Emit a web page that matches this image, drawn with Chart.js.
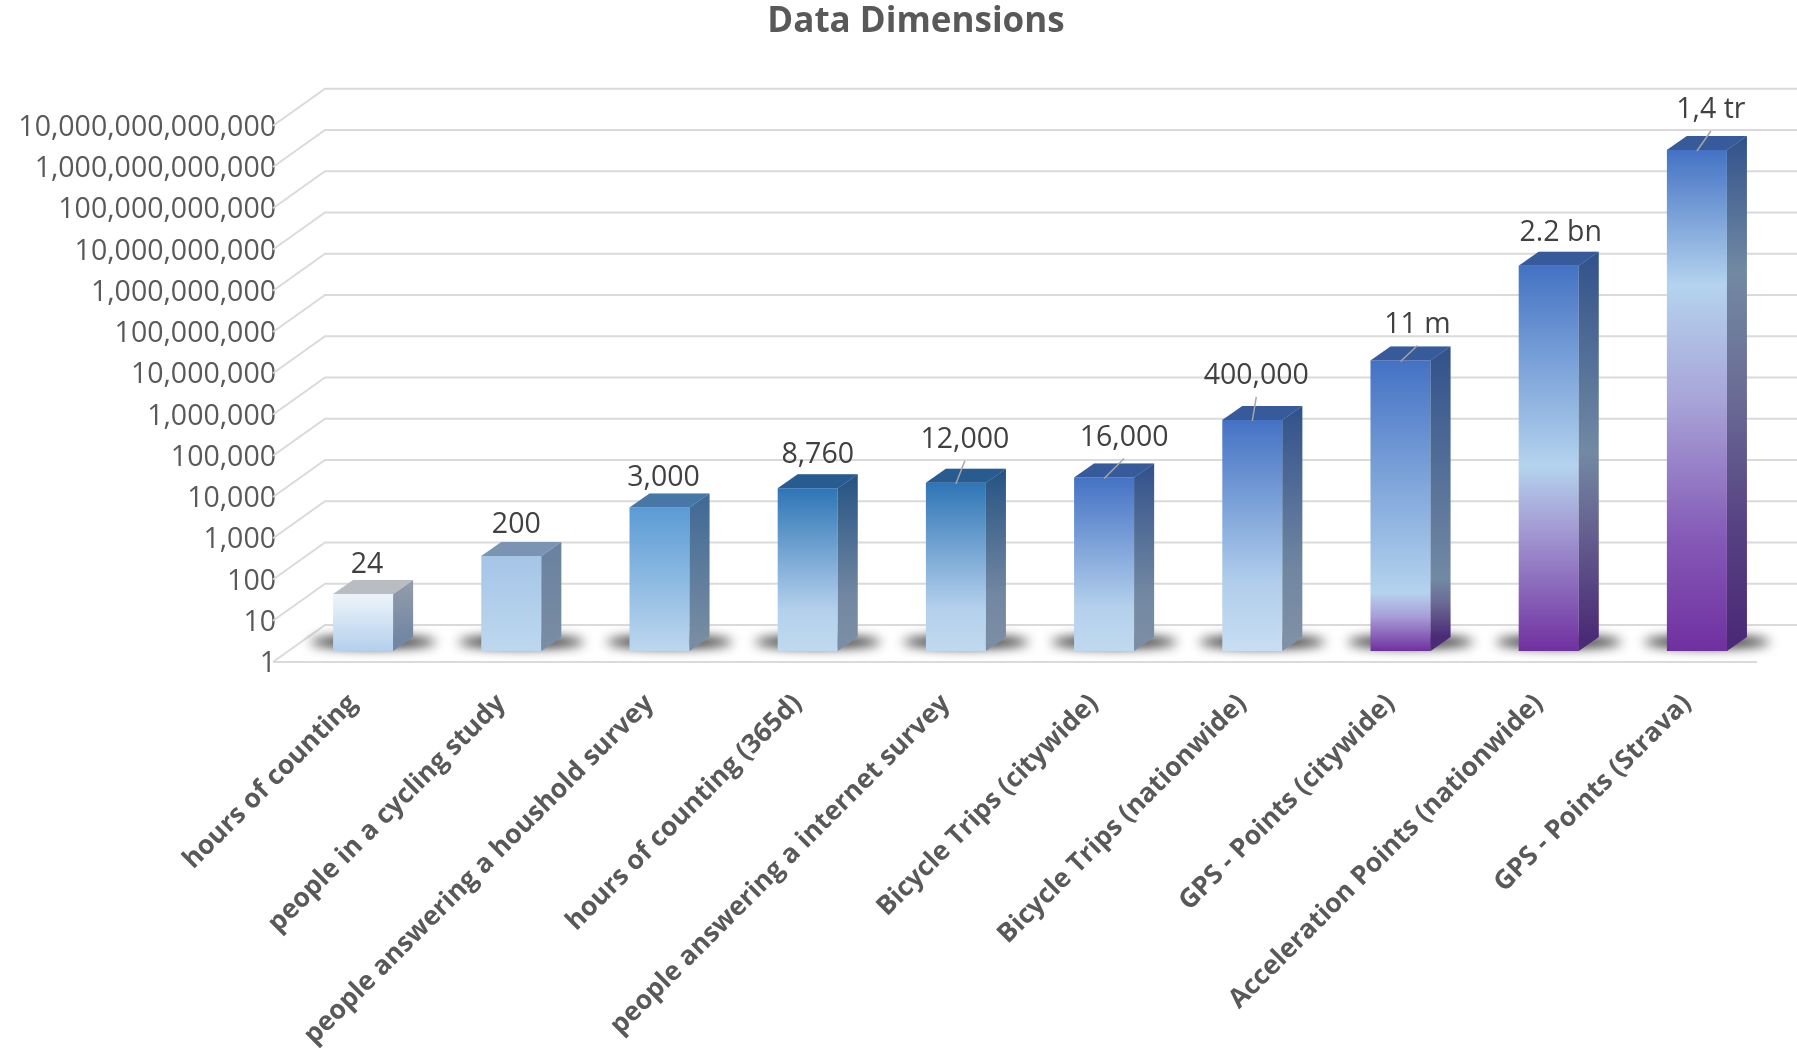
<!DOCTYPE html>
<html>
<head>
<meta charset="utf-8">
<script src="https://cdn.jsdelivr.net/npm/chart.js@4.4.1/dist/chart.umd.min.js"></script>
<style>
  html, body { margin: 0; padding: 0; background: #fff; }
  #wrap { width: 1797px; height: 1051px; }
</style>
</head>
<body>
<div id="wrap"><canvas id="chart" width="1797" height="1051"></canvas></div>
<script>
const chartTitle = 'Data Dimensions';
const categories = [
  'hours of counting', 'people in a cycling study', 'people answering a houshold survey',
  'hours of counting (365d)', 'people answering a internet survey', 'Bicycle Trips (citywide)',
  'Bicycle Trips (nationwide)', 'GPS - Points (citywide)', 'Acceleration Points (nationwide)', 'GPS - Points (Strava)'
];
const values = [24, 200, 3000, 8760, 12000, 16000, 400000, 11000000, 2200000000, 1400000000000];
const valueLabels = ['24', '200', '3,000', '8,760', '12,000', '16,000', '400,000', '11 m', '2.2 bn', '1,4 tr'];
const yTickValues = [1, 1e1, 1e2, 1e3, 1e4, 1e5, 1e6, 1e7, 1e8, 1e9, 1e10, 1e11, 1e12, 1e13];

// look of the 3d columns (front face gradient top -> bottom)
const faceStops = [
  [[0, '#eef4fb'], [1, '#b4d0ec']],
  [[0, '#a5c5e7'], [1, '#bdd7ee']],
  [[0, '#5b9bd5'], [1, '#bdd7ee']],
  [[0, '#2e75b6'], [0.75, '#b4d0ec'], [1, '#c0d9ef']],
  [[0, '#2e75b6'], [0.75, '#b4d0ec'], [1, '#c0d9ef']],
  [[0, '#4472c4'], [0.75, '#b4d0ec'], [1, '#c0d9ef']],
  [[0, '#4472c4'], [0.7, '#b0cdeb'], [1, '#c8def2']],
  [[0, '#4472c4'], [0.8, '#b4d3ee'], [0.88, '#a89fd8'], [1, '#7030a0']],
  [[0, '#4472c4'], [0.52, '#b4d3ee'], [0.68, '#a49cd4'], [1, '#7030a0']],
  [[0, '#4472c4'], [0.27, '#b4d3ee'], [0.5, '#a8a4d8'], [0.78, '#8458b6'], [1, '#7030a0']],
];
const topFace = ['#b9bcc1', null, null, null, null, null, null, null, null, null];
// label placement relative to the column top (px)
const labelShiftX = [4, 5, 4, 10, 9, 20, 4, 17, 12, 14];
const labelRise = [29, 31, 30, 33, 43, 40, 44, 36, 33, 40];
const DX = 20, DY = 14;

function faceGradient(ctx, i, top, bottom) {
  const g = ctx.createLinearGradient(0, top, 0, bottom);
  faceStops[i].forEach(s => g.addColorStop(s[0], s[1]));
  return g;
}

const threeD = {
  id: 'threeD',
  beforeDatasetsDraw(chart) {
    const { ctx, chartArea, scales: { y } } = chart;
    ctx.save();
    ctx.strokeStyle = '#dadada'; ctx.lineWidth = 2;
    const x0 = chartArea.left - 16, x1 = chartArea.left + 36;
    yTickValues.forEach(v => {
      const fy = y.getPixelForValue(v) + 11, by = fy - 37;
      ctx.beginPath(); ctx.moveTo(x0, fy); ctx.lineTo(x1, by); ctx.lineTo(chart.width, by); ctx.stroke();
    });
    const floorY = y.getPixelForValue(1) + 11;
    ctx.beginPath(); ctx.moveTo(x0, floorY); ctx.lineTo(chartArea.right - 14, floorY); ctx.stroke();
    // floor shadows
    const meta = chart.getDatasetMeta(0);
    ctx.filter = 'blur(6px)';
    ctx.fillStyle = 'rgba(0,0,0,0.85)';
    meta.data.forEach(bar => {
      ctx.beginPath(); ctx.ellipse(bar.x + 10, bar.base - 9, bar.width * 1.05, 6, 0, 0, Math.PI * 2); ctx.fill();
    });
    ctx.restore();
  },
  afterDatasetsDraw(chart) {
    const { ctx } = chart;
    const meta = chart.getDatasetMeta(0);
    ctx.save();
    meta.data.forEach((bar, i) => {
      const l = bar.x - bar.width / 2, r = bar.x + bar.width / 2, t = bar.y, b = bar.base;
      ctx.beginPath(); ctx.moveTo(r, t); ctx.lineTo(r + DX, t - DY); ctx.lineTo(r + DX, b - DY); ctx.lineTo(r, b); ctx.closePath();
      ctx.fillStyle = faceGradient(ctx, i, t - DY, b - DY); ctx.fill();
      ctx.fillStyle = 'rgba(25,35,60,0.42)'; ctx.fill();
      ctx.beginPath(); ctx.moveTo(l, t); ctx.lineTo(l + DX, t - DY); ctx.lineTo(r + DX, t - DY); ctx.lineTo(r, t); ctx.closePath();
      if (topFace[i]) { ctx.fillStyle = topFace[i]; ctx.fill(); }
      else { ctx.fillStyle = faceStops[i][0][1]; ctx.fill(); ctx.fillStyle = 'rgba(25,35,60,0.3)'; ctx.fill(); }
    });
    ctx.font = '28.5px "Open Sans"'; ctx.fillStyle = '#404040';
    ctx.textAlign = 'center'; ctx.textBaseline = 'middle';
    ctx.strokeStyle = '#a6a6a6'; ctx.lineWidth = 1.5;
    meta.data.forEach((bar, i) => {
      const lx = bar.x + labelShiftX[i], ly = bar.y - labelRise[i];
      ctx.fillText(valueLabels[i], lx, ly);
      if (labelRise[i] > 35) {
        ctx.beginPath(); ctx.moveTo(lx, ly + 21); ctx.lineTo(bar.x, bar.y + 1); ctx.stroke();
      }
    });
    // title
    ctx.font = 'bold 35px "Open Sans"'; ctx.fillStyle = '#595959';
    ctx.fillText(chartTitle, 916, 22);
    ctx.restore();
  }
};

new Chart(document.getElementById('chart'), {
  type: 'bar',
  data: {
    labels: categories,
    datasets: [{
      data: values,
      backgroundColor: c => {
        const ch = c.chart;
        if (!ch.chartArea) return faceStops[c.dataIndex][0][1];
        const y = ch.scales.y;
        return faceGradient(ch.ctx, c.dataIndex, y.getPixelForValue(values[c.dataIndex]), y.getPixelForValue(1));
      },
      borderWidth: 0, barPercentage: 0.405, categoryPercentage: 1,
    }]
  },
  options: {
    responsive: false, animation: false,
    layout: { padding: { top: 114.75, right: 26, left: 0, bottom: 0 } },
    plugins: { legend: { display: false }, title: { display: false }, tooltip: { enabled: false } },
    scales: {
      x: {
        grid: { display: false, drawTicks: false }, border: { display: false },
        afterFit: s => { s.height = 400; },
        ticks: { autoSkip: false, minRotation: 45, maxRotation: 45, padding: 37, labelOffset: -10, color: '#595959', font: { family: 'Open Sans', size: 26.5, weight: 'bold' } },
      },
      y: {
        type: 'logarithmic', min: 1, max: 1e13,
        grid: { display: false, drawTicks: false }, border: { display: false },
        afterFit: s => { s.width = 289; },
        afterBuildTicks: s => { s.ticks = yTickValues.map(v => ({ value: v })); },
        ticks: { padding: 13, labelOffset: 13, color: '#595959', font: { family: 'Open Sans', size: 28.5 }, callback: v => Number(v).toLocaleString('en-US') },
      },
    },
  },
  plugins: [threeD],
});
</script>
</body>
</html>
